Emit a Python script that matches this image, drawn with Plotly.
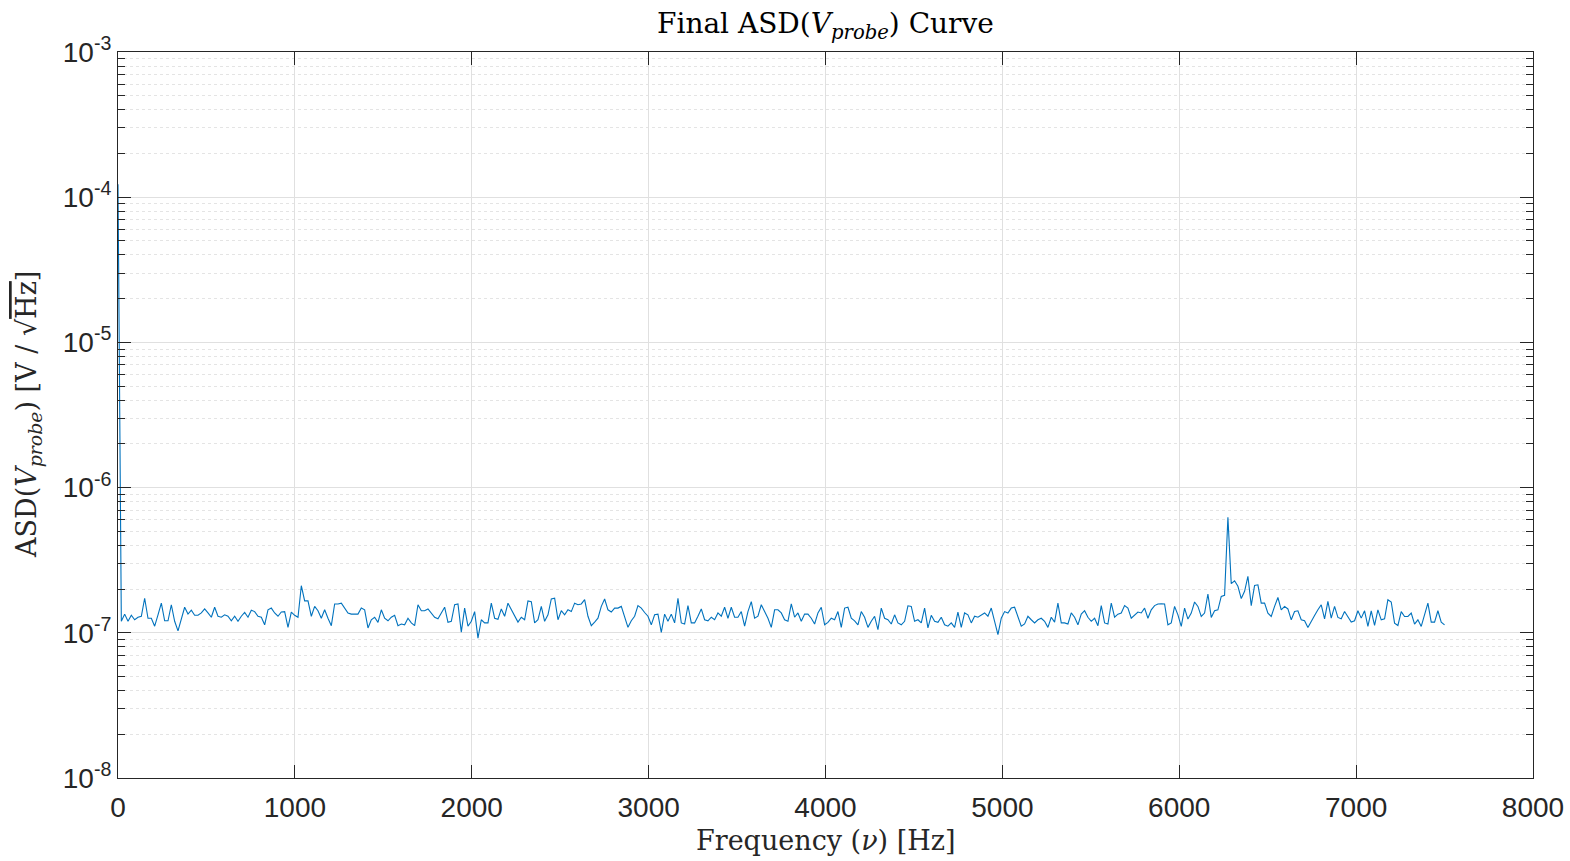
import numpy as np
import plotly.graph_objects as go

# ASD values in units of 1e-7 V/sqrt(Hz)
dc_value = [1230.0]
seg_a = [1.20, 1.345, 1.20, 1.32, 1.23, 1.28, 1.30, 1.73, 1.26, 1.26,
         1.11, 1.33, 1.60, 1.21, 1.21, 1.56, 1.20, 1.03, 1.26, 1.50,
         1.345, 1.43, 1.32, 1.32, 1.37, 1.46, 1.37, 1.28, 1.50, 1.30,
         1.28, 1.33, 1.30, 1.21, 1.30, 1.20, 1.30, 1.38, 1.28, 1.43,
         1.40, 1.30, 1.28, 1.135, 1.44, 1.48, 1.37, 1.30, 1.39, 1.40,
         1.09, 1.39, 1.32, 1.28, 2.11, 1.66, 1.66, 1.30, 1.52, 1.42,
         1.26, 1.44, 1.26, 1.12, 1.58, 1.58, 1.60, 1.48, 1.37, 1.345,
         1.345, 1.345, 1.48, 1.44, 1.08, 1.23, 1.28, 1.18, 1.44, 1.26,
         1.21, 1.28, 1.32, 1.12, 1.15, 1.135]
seg_b = [1.26, 1.17, 1.12, 1.56, 1.42, 1.42, 1.46, 1.37, 1.28, 1.25,
         1.37, 1.50, 1.18, 1.20, 1.56, 1.58, 1.01, 1.48, 1.11, 1.20,
         1.40, 0.92, 1.23, 1.17, 1.17, 1.60, 1.26, 1.24, 1.46, 1.30,
         1.60, 1.44, 1.30, 1.185, 1.28, 1.23, 1.66, 1.64, 1.17, 1.23,
         1.52, 1.20, 1.33, 1.71, 1.73, 1.23, 1.42, 1.33, 1.44, 1.40,
         1.60, 1.56, 1.58, 1.69, 1.30, 1.12, 1.185, 1.26, 1.52, 1.71,
         1.44, 1.39, 1.48, 1.48, 1.52, 1.28, 1.09, 1.21, 1.30, 1.54,
         1.48, 1.38, 1.30, 1.135, 1.33, 1.345, 1.005, 1.345, 1.20, 1.345,
         1.17, 1.73, 1.17, 1.15, 1.54, 1.17]
seg_c = [1.17, 1.30, 1.46, 1.23, 1.21, 1.28, 1.23, 1.37, 1.30, 1.50,
         1.26, 1.50, 1.28, 1.28, 1.40, 1.11, 1.40, 1.64, 1.26, 1.30,
         1.56, 1.40, 1.26, 1.09, 1.44, 1.44, 1.37, 1.23, 1.20, 1.58,
         1.28, 1.37, 1.20, 1.345, 1.345, 1.26, 1.15, 1.37, 1.50, 1.135,
         1.18, 1.26, 1.23, 1.40, 1.09, 1.48, 1.50, 1.26, 1.21, 1.135,
         1.40, 1.28, 1.09, 1.20, 1.30, 1.05, 1.48, 1.26, 1.23, 1.15,
         1.33, 1.17, 1.135, 1.20, 1.535, 1.52, 1.20, 1.23, 1.17, 1.48,
         1.08, 1.32, 1.20, 1.18, 1.28, 1.135, 1.11, 1.17, 1.09, 1.39,
         1.09, 1.37, 1.33, 1.17, 1.30]
seg_d = [1.28, 1.33, 1.37, 1.30, 1.48, 1.20, 0.97, 1.26, 1.40, 1.37,
         1.48, 1.50, 1.30, 1.11, 1.15, 1.30, 1.23, 1.17, 1.23, 1.26,
         1.20, 1.09, 1.28, 1.185, 1.60, 1.17, 1.17, 1.15, 1.37, 1.28,
         1.135, 1.345, 1.42, 1.28, 1.20, 1.26, 1.12, 1.54, 1.17, 1.15,
         1.60, 1.28, 1.345, 1.37, 1.54, 1.48, 1.26, 1.32, 1.39, 1.37,
         1.48, 1.26, 1.44, 1.54, 1.58, 1.585, 1.58, 1.135, 1.17, 1.52]
seg_e = [1.33, 1.106, 1.48, 1.243, 1.367, 1.63, 1.52, 1.296, 1.367, 1.85,
         1.276, 1.418, 1.44, 1.78, 1.81, 6.24, 2.18, 2.28, 2.09, 1.72,
         1.93, 2.45, 1.54, 2.12, 2.14, 1.60, 1.60, 1.367, 1.296, 1.52,
         1.75, 1.44, 1.52, 1.46, 1.229, 1.40, 1.418, 1.229, 1.21, 1.088,
         1.21, 1.317, 1.44, 1.56, 1.249, 1.645, 1.262, 1.52, 1.276, 1.249,
         1.40, 1.296, 1.185, 1.21, 1.418, 1.262, 1.418, 1.106, 1.418, 1.123,
         1.44, 1.229, 1.249, 1.69, 1.63, 1.166, 1.123, 1.40, 1.296, 1.296,
         1.367, 1.148, 1.229, 1.106, 1.33, 1.60, 1.185, 1.185, 1.418, 1.185,
         1.135]

asd = np.array(dc_value + seg_a + seg_b + seg_c + seg_d + seg_e) * 1e-7
f_max = 7500.0
freq = np.linspace(0.0, f_max, len(asd))

x_ticks = [0, 1000, 2000, 3000, 4000, 5000, 6000, 7000, 8000]
y_exps = [-8, -7, -6, -5, -4, -3]

axis_col = "#262626"
grid_col = "#e0e0e0"
minor_grid_col = "#e4e4e4"
tick_font = dict(family="Liberation Sans, Arial, sans-serif", size=28, color=axis_col)
serif = "DejaVu Serif, Liberation Serif, serif"

fig = go.Figure()
fig.add_trace(go.Scatter(x=freq, y=asd, mode="lines",
                         line=dict(color="#0072BD", width=1.1),
                         showlegend=False, hoverinfo="x+y"))

fig.update_layout(
    width=1570, height=861,
    margin=dict(l=118, r=37, t=52, b=83),
    paper_bgcolor="white", plot_bgcolor="white",
    xaxis=dict(
        range=[0, 8000], tickmode="array", tickvals=x_ticks,
        ticktext=[str(v) for v in x_ticks], automargin=False,
        ticklabeloverflow="allow",
        ticks="inside", ticklen=13, tickwidth=1, tickcolor=axis_col,
        showline=True, linecolor=axis_col, linewidth=1, mirror="ticks",
        showgrid=True, gridcolor=grid_col, gridwidth=1,
        zeroline=False, tickfont=tick_font, ticklabelstandoff=4,
    ),
    yaxis=dict(
        type="log", range=[-8, -3], automargin=False,
        ticklabeloverflow="allow",
        tickmode="array", tickvals=[10.0 ** e for e in y_exps],
        ticktext=["10<sup>%d</sup>" % e for e in y_exps],
        ticks="inside", ticklen=13, tickwidth=1, tickcolor=axis_col,
        showline=True, linecolor=axis_col, linewidth=1, mirror="ticks",
        showgrid=True, gridcolor=grid_col, gridwidth=1,
        zeroline=False, tickfont=tick_font,
        minor=dict(tickmode="linear", dtick="D1", ticks="inside", ticklen=7,
                   tickcolor=axis_col, showgrid=True, gridcolor=minor_grid_col,
                   griddash="dot", gridwidth=1),
    ),
    annotations=[
        dict(text="Final ASD(<i>V</i><sub><i>probe</i></sub>) Curve",
             xref="paper", yref="paper", x=0.5, y=1.0, yshift=27,
             xanchor="center", yanchor="middle", showarrow=False,
             font=dict(family=serif, size=28, color="#000000")),
        dict(text="Frequency (<i>ν</i>) [Hz]",
             xref="paper", yref="paper", x=0.5, y=0.0, yshift=-62,
             xanchor="center", yanchor="middle", showarrow=False,
             font=dict(family=serif, size=27, color=axis_col)),
        dict(text="ASD(<i>V</i><sub><i>probe</i></sub>) [V / √<span style='text-decoration:overline'>Hz</span>]",
             xref="paper", yref="paper", x=0.0, y=0.5, xshift=-90,
             xanchor="center", yanchor="middle", textangle=-90, showarrow=False,
             font=dict(family=serif, size=27, color=axis_col)),
    ],
)

fig.write_html("out.html")
